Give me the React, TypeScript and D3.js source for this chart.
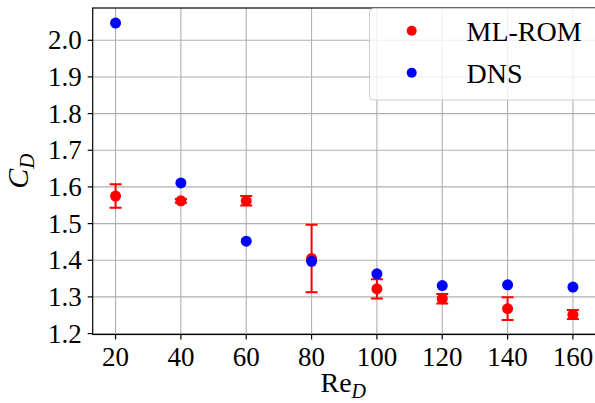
import React from 'react';
import * as d3 from 'd3';

// Reynolds numbers
const reynolds = [20, 40, 60, 80, 100, 120, 140, 160];
// ML-ROM mean drag coefficient and error half-widths
const mlRomMean = [1.575, 1.562, 1.562, 1.405, 1.322, 1.295, 1.268, 1.252];
const mlRomErr = [0.032, 0.005, 0.013, 0.092, 0.026, 0.013, 0.031, 0.012];
// DNS drag coefficient
const dnsValues = [2.047, 1.611, 1.452, 1.397, 1.363, 1.331, 1.333, 1.327];

const xTicks = [20, 40, 60, 80, 100, 120, 140, 160];
const yTicks = [1.2, 1.3, 1.4, 1.5, 1.6, 1.7, 1.8, 1.9, 2.0];

const W = 595;
const H = 403;
const FONT = '"Liberation Serif", "Times New Roman", serif';

const App = () => {
  const left = 92.7;
  const right = 595.8;
  const top = 8;
  const bottom = 334.5;

  const x = d3.scaleLinear().domain([13, 167]).range([left, right]);
  const y = d3.scaleLinear().domain([1.1975, 2.088]).range([bottom, top]);

  const red = '#ff0000';
  const blue = '#0000ff';
  const capHalf = 6;

  return (
    <svg width={W} height={H} style={{ position: 'absolute', left: 0, top: 0, background: '#fff' }}>
      <rect x={0} y={0} width={W} height={H} fill="#fff" />
      <defs>
        <clipPath id="plot-clip">
          <rect x={left} y={top} width={right - left} height={bottom - top} />
        </clipPath>
      </defs>

      {/* grid */}
      <g stroke="#b0b0b0" strokeWidth={1.1}>
        {xTicks.map(t => (
          <line key={'gx' + t} x1={x(t)} x2={x(t)} y1={top} y2={bottom} />
        ))}
        {yTicks.map(t => (
          <line key={'gy' + t} x1={left} x2={right} y1={y(t)} y2={y(t)} />
        ))}
      </g>

      <g clipPath="url(#plot-clip)">
        {/* ML-ROM error bars */}
        <g stroke={red} strokeWidth={2}>
          {reynolds.map((r, i) => {
            const lo = y(mlRomMean[i] - mlRomErr[i]);
            const hi = y(mlRomMean[i] + mlRomErr[i]);
            return (
              <g key={'eb' + r}>
                <line x1={x(r)} x2={x(r)} y1={lo} y2={hi} />
                <line x1={x(r) - capHalf} x2={x(r) + capHalf} y1={lo} y2={lo} />
                <line x1={x(r) - capHalf} x2={x(r) + capHalf} y1={hi} y2={hi} />
              </g>
            );
          })}
        </g>
        {reynolds.map((r, i) => (
          <circle key={'ml' + r} cx={x(r)} cy={y(mlRomMean[i])} r={5.5} fill={red} />
        ))}
        {reynolds.map((r, i) => (
          <circle key={'dns' + r} cx={x(r)} cy={y(dnsValues[i])} r={5.5} fill={blue} />
        ))}
      </g>

      {/* spines */}
      <rect x={left} y={top} width={right - left} height={bottom - top} fill="none" stroke="#000" strokeWidth={1.2} />

      {/* ticks */}
      <g stroke="#000" strokeWidth={1.2}>
        {xTicks.map(t => (
          <line key={'tx' + t} x1={x(t)} x2={x(t)} y1={bottom} y2={bottom + 5} />
        ))}
        {yTicks.map(t => (
          <line key={'ty' + t} x1={left - 5} x2={left} y1={y(t)} y2={y(t)} />
        ))}
      </g>
      <g fontFamily={FONT} fontSize={27} fill="#000">
        {xTicks.map(t => (
          <text key={'lx' + t} x={x(t)} y={bottom + 31} textAnchor="middle">{t}</text>
        ))}
        {yTicks.map(t => (
          <text key={'ly' + t} x={left - 11} y={y(t) + 9} textAnchor="end">{d3.format('.1f')(t)}</text>
        ))}
      </g>

      {/* axis labels */}
      <text x={(left + right) / 2 - 1} y={392} textAnchor="middle" fontFamily={FONT} fontSize={28}>
        Re<tspan fontStyle="italic" fontSize={20} dy={6}>D</tspan>
      </text>
      <text
        transform={`translate(28,${(top + bottom) / 2}) rotate(-90)`}
        textAnchor="middle"
        fontFamily={FONT}
        fontSize={30}
      >
        <tspan fontStyle="italic">C</tspan>
        <tspan fontStyle="italic" fontSize={21} dy={6}>D</tspan>
      </text>

      {/* legend */}
      <g>
        <rect x={369.5} y={8.5} width={240} height={91.5} rx={4} fill="#fff" fillOpacity={0.8} stroke="#cccccc" strokeWidth={1} />
        <circle cx={411.7} cy={30.7} r={5} fill={red} />
        <circle cx={411.7} cy={72.7} r={5} fill={blue} />
        <text x={466.5} y={41} fontFamily={FONT} fontSize={28}>ML-ROM</text>
        <text x={466.5} y={83} fontFamily={FONT} fontSize={28}>DNS</text>
      </g>
    </svg>
  );
};

export default App;
